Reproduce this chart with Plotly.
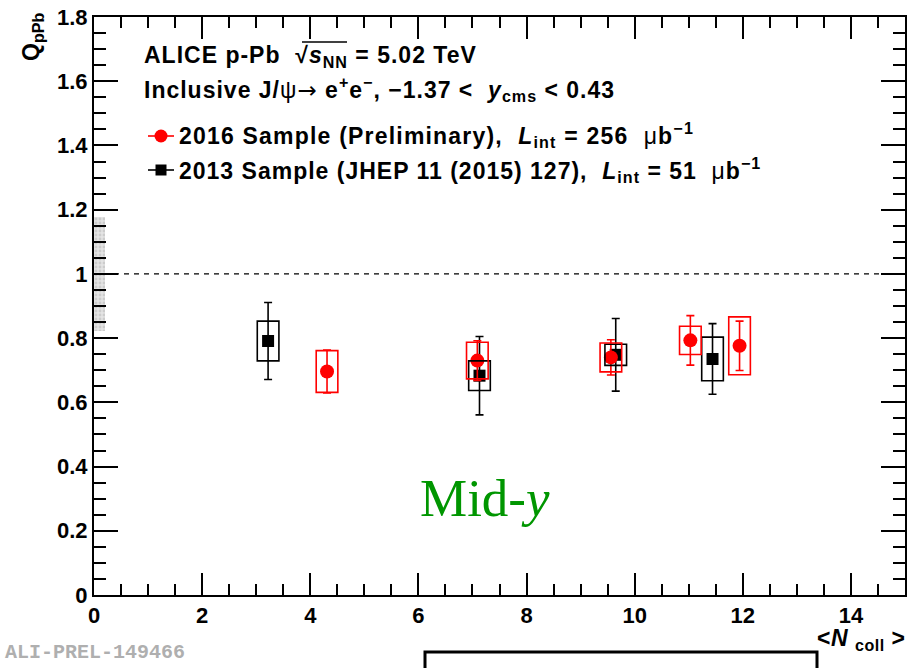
import plotly.graph_objects as go

# ---- data -------------------------------------------------------------
# 2016 sample (preliminary)
ncoll_2016 = [4.31, 7.09, 9.56, 11.03, 11.94]
q_2016 = [0.696, 0.730, 0.740, 0.793, 0.776]
stat_2016 = [0.067, 0.062, 0.055, 0.077, 0.077]
sys_2016 = [0.065, 0.057, 0.045, 0.044, 0.090]

# 2013 sample (JHEP 11 (2015) 127)
ncoll_2013 = [3.22, 7.13, 9.65, 11.44]
q_2013 = [0.791, 0.683, 0.748, 0.735]
stat_2013 = [0.120, 0.122, 0.113, 0.110]
sys_2013 = [0.062, 0.046, 0.033, 0.068]

# global normalisation uncertainty around unity
global_unc = 0.178
box_halfwidth = 0.2
global_box_width = 0.2

x_ticks = [0, 2, 4, 6, 8, 10, 12, 14]
y_ticks = [0, 0.2, 0.4, 0.6, 0.8, 1.0, 1.2, 1.4, 1.6, 1.8]

RED = "rgb(255,0,0)"
BLACK = "rgb(0,0,0)"
FONT = "Liberation Sans"

# plot area in pixels (used to place paper-anchored text)
W, H = 921, 668
L, R, T, B = 94, 905, 17, 595


def px(xp):
    return (xp - L) / (R - L)


def py(yp):
    return (B - yp) / (B - T)


def wide(s, spacing=1.0):
    """Slightly tracked-out text, as in the ROOT canvas labels."""
    return f"<span style='letter-spacing:{spacing}px'>{s}</span>"


ARROW = "<span style='font-family:DejaVu Sans;font-weight:normal'>→</span>"
PSI = "<span style='font-weight:normal'>ψ</span>"
MU = "<span style='font-weight:normal'>μ</span>"

fig = go.Figure()

# global uncertainty box at Q = 1
fig.add_trace(go.Bar(
    x=[global_box_width / 2], y=[2 * global_unc], base=[1 - global_unc],
    width=[global_box_width],
    marker=dict(color="rgb(220,220,220)", line=dict(width=0),
                pattern=dict(shape=".", fgcolor="rgb(180,180,180)",
                             bgcolor="rgb(228,228,228)", size=4, solidity=0.4)),
    showlegend=False, hoverinfo="skip",
))

shapes = []

# systematic uncertainty boxes
for xs, ys, ss, col in [(ncoll_2013, q_2013, sys_2013, BLACK),
                        (ncoll_2016, q_2016, sys_2016, RED)]:
    for xv, yv, sv in zip(xs, ys, ss):
        shapes.append(dict(type="rect", xref="x", yref="y",
                           x0=xv - box_halfwidth, x1=xv + box_halfwidth,
                           y0=yv - sv, y1=yv + sv,
                           line=dict(color=col, width=1.6),
                           fillcolor="rgba(0,0,0,0)", layer="above"))

# unity reference line
shapes.append(dict(type="line", xref="paper", yref="y", x0=0, x1=1, y0=1, y1=1,
                   line=dict(color=BLACK, width=1.3, dash="5px,5px")))

fig.add_trace(go.Scatter(
    x=ncoll_2013, y=q_2013, mode="markers",
    marker=dict(symbol="square", size=12, color=BLACK),
    error_y=dict(type="data", array=stat_2013, symmetric=True,
                 color=BLACK, thickness=1.6, width=4),
    showlegend=False,
))
fig.add_trace(go.Scatter(
    x=ncoll_2016, y=q_2016, mode="markers",
    marker=dict(symbol="circle", size=14, color=RED),
    error_y=dict(type="data", array=stat_2016, symmetric=True,
                 color=RED, thickness=1.6, width=4),
    showlegend=False,
))

# legend symbols
for ypix, col, sym in [(136, RED, "circle"), (170, BLACK, "square")]:
    shapes.append(dict(type="line", xref="paper", yref="paper",
                       x0=px(148), x1=px(174), y0=py(ypix), y1=py(ypix),
                       line=dict(color=col, width=1.6)))
    if sym == "circle":
        shapes.append(dict(type="circle", xref="paper", yref="paper",
                           x0=px(154.5), x1=px(167.5), y0=py(ypix + 6.5), y1=py(ypix - 6.5),
                           fillcolor=col, line=dict(color=col, width=0)))
    else:
        shapes.append(dict(type="rect", xref="paper", yref="paper",
                           x0=px(155.5), x1=px(166.5), y0=py(ypix + 5.5), y1=py(ypix - 5.5),
                           fillcolor=col, line=dict(color=col, width=0)))

# bar of the square-root sign
shapes.append(dict(type="line", xref="paper", yref="paper",
                   x0=px(302), x1=px(347), y0=py(42), y1=py(42),
                   line=dict(color=BLACK, width=1.3)))

bold = dict(family=FONT, size=23, color=BLACK, weight="bold")
annotations = [
    dict(x=px(142), y=py(57),
         text=wide("ALICE p-Pb  √<i>s</i><sub>NN</sub> = 5.02 TeV")),
    dict(x=px(142), y=py(89),
         text=wide(f"Inclusive J/{PSI}{ARROW} e<sup>+</sup>e<sup>−</sup>, −1.37 &lt;  <i>y</i><sub>cms</sub> &lt; 0.43")),
    dict(x=px(177), y=py(135),
         text=wide(f"2016 Sample (Preliminary),  <i>L</i><sub>int</sub> = 256  {MU}b<sup>−1</sup>", 1.2)),
    dict(x=px(177), y=py(170),
         text=wide(f"2013 Sample (JHEP 11 (2015) 127),  <i>L</i><sub>int</sub> = 51  {MU}b<sup>−1</sup>")),
]
for a in annotations:
    a.update(xref="paper", yref="paper", xanchor="left", yanchor="middle",
             showarrow=False, font=bold)

annotations += [
    dict(x=px(485), y=py(498), xref="paper", yref="paper", showarrow=False,
         text="Mid-<i>y</i>", xanchor="center", yanchor="middle",
         font=dict(family="Liberation Serif", size=53, color="rgb(0,150,0)")),
    dict(x=px(33), y=py(37), xref="paper", yref="paper", showarrow=False,
         text="Q<sub>pPb</sub>", textangle=-90, xanchor="center", yanchor="middle",
         font=dict(family=FONT, size=23, color=BLACK, weight="bold")),
    dict(x=px(908), y=py(639), xref="paper", yref="paper", showarrow=False,
         text=wide("&lt;<i>N</i> <sub>coll</sub> &gt;", 0.5), xanchor="right", yanchor="middle",
         font=dict(family=FONT, size=23, color=BLACK, weight="bold")),
    dict(x=px(3), y=py(652), xref="paper", yref="paper", showarrow=False,
         text="ALI-PREL-149466", xanchor="left", yanchor="middle",
         font=dict(family="Liberation Mono", size=20, color="rgb(175,175,175)",
                   weight="bold")),
]

# framed box below the plot
shapes.append(dict(type="rect", xref="paper", yref="paper",
                   x0=px(425), x1=px(817), y0=py(700), y1=py(652),
                   line=dict(color=BLACK, width=3), fillcolor="rgba(0,0,0,0)"))

axis_common = dict(
    showgrid=False, zeroline=False, showline=True, linecolor=BLACK, linewidth=2,
    mirror="ticks", ticks="inside", tickcolor=BLACK, tickwidth=1.5,
    automargin=False,
    tickfont=dict(family=FONT, size=22, color=BLACK, weight="bold"),
)

fig.update_xaxes(range=[0, 15], tickvals=x_ticks, ticklen=22,
                 minor=dict(dtick=0.5, ticks="inside", ticklen=11, tickwidth=1.5,
                            tickcolor=BLACK, showgrid=False),
                 **axis_common)
fig.update_yaxes(range=[0, 1.8], tickvals=y_ticks, ticklen=24,
                 minor=dict(dtick=0.05, ticks="inside", ticklen=12, tickwidth=1.5,
                            tickcolor=BLACK, showgrid=False),
                 **axis_common)

fig.update_layout(
    width=W, height=H,
    margin=dict(l=L, r=W - R, t=T, b=H - B, autoexpand=False),
    paper_bgcolor="white", plot_bgcolor="white",
    shapes=shapes, annotations=annotations,
    showlegend=False, bargap=0,
)

fig.write_html("out.html")
